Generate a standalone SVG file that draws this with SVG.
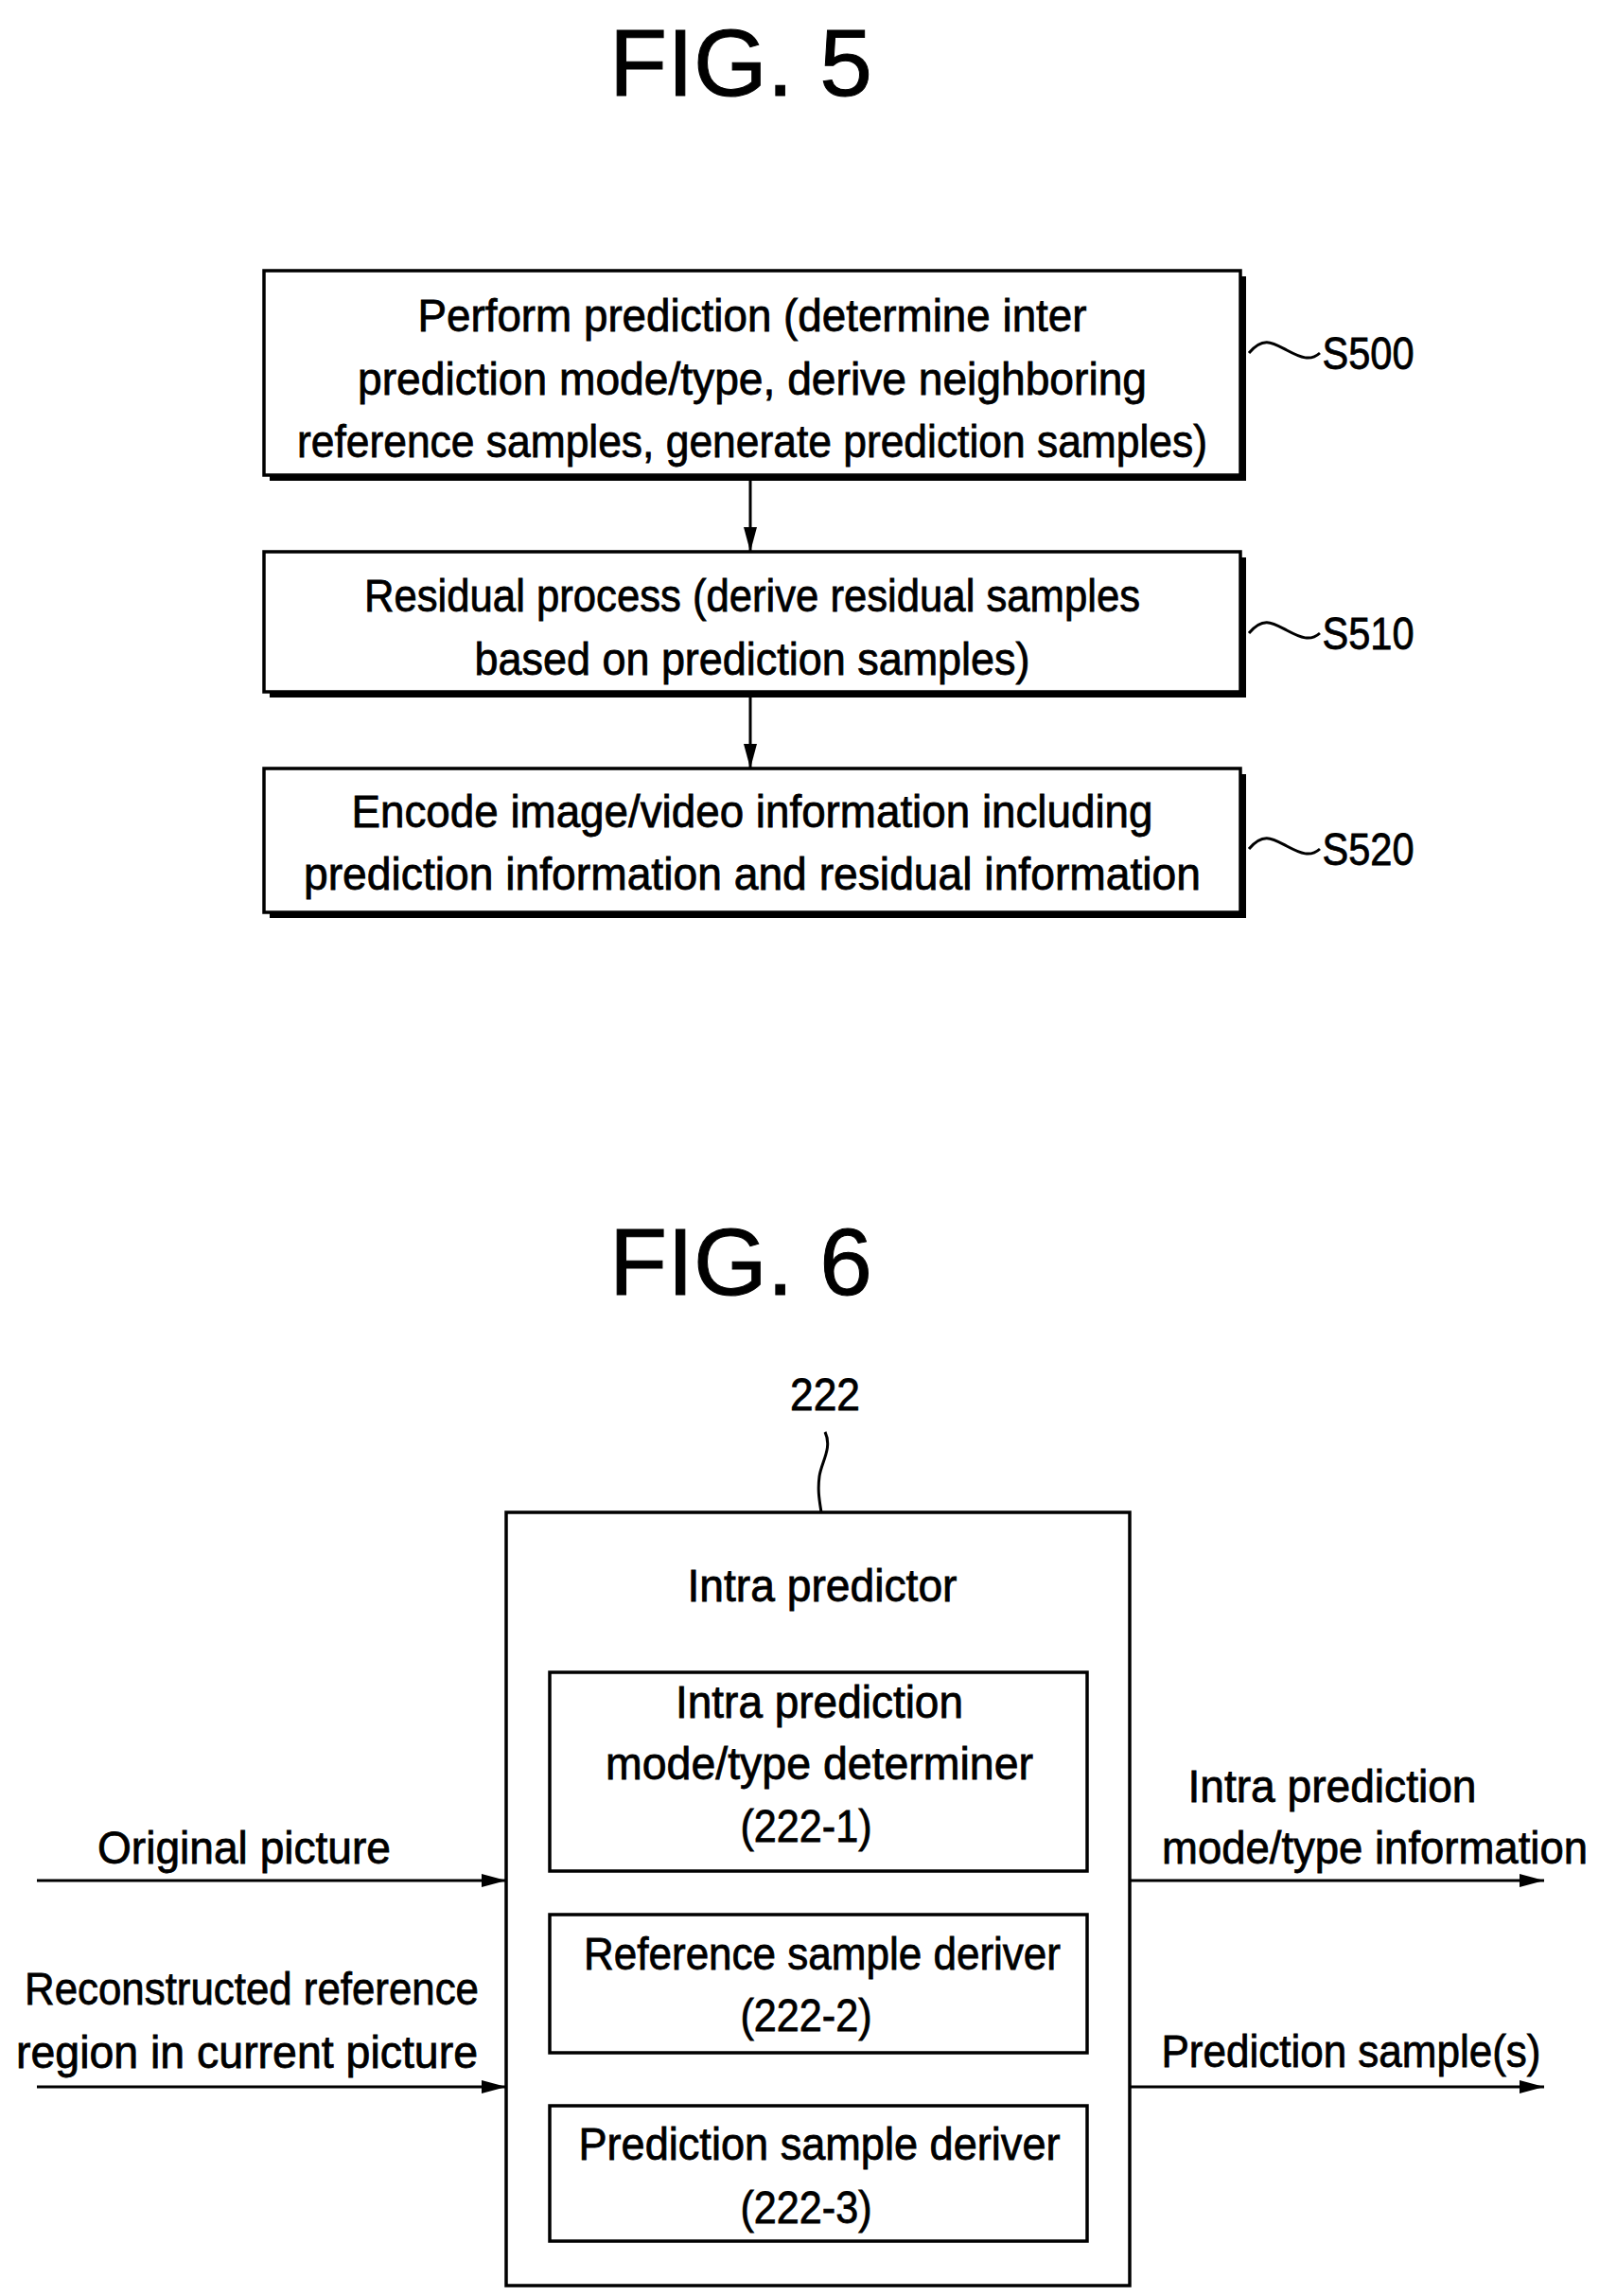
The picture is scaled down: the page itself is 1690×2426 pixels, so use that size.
<svg xmlns="http://www.w3.org/2000/svg" width="1690" height="2426" viewBox="0 0 1690 2426">
<style>
text{font-family:"Liberation Sans",Arial,sans-serif;font-size:48px;fill:#000;stroke:#000;stroke-width:0.8;text-anchor:middle}
.t{font-size:100px;stroke-width:1}
.b{fill:#fff;stroke:#000;stroke-width:3.5}
.s{fill:#000}
.c{stroke:#000;stroke-width:3;fill:none}
</style>
<defs><marker id="a" markerWidth="26" markerHeight="14" refX="26" refY="7" orient="auto" markerUnits="userSpaceOnUse"><path d="M0,0L26,7L0,14z"/></marker></defs>
<rect width="1690" height="2426" fill="#fff"/>
<text class="t" x="783" y="101">FIG. 5</text>
<g id="s500"><rect class="s" x="285" y="292" width="1032" height="216"/><rect class="b" x="279" y="286" width="1032" height="216"/>
<text x="795" y="350" textLength="707" lengthAdjust="spacingAndGlyphs">Perform prediction (determine inter</text>
<text x="795" y="417" textLength="834" lengthAdjust="spacingAndGlyphs">prediction mode/type, derive neighboring</text>
<text x="795" y="483" textLength="962" lengthAdjust="spacingAndGlyphs">reference samples, generate prediction samples)</text></g>
<g id="s510"><rect class="s" x="285" y="589" width="1032" height="148"/><rect class="b" x="279" y="583" width="1032" height="148"/>
<text x="795" y="646" textLength="820" lengthAdjust="spacingAndGlyphs">Residual process (derive residual samples</text>
<text x="795" y="713" textLength="587" lengthAdjust="spacingAndGlyphs">based on prediction samples)</text></g>
<g id="s520"><rect class="s" x="285" y="818" width="1032" height="152"/><rect class="b" x="279" y="812" width="1032" height="152"/>
<text x="795" y="874" textLength="847" lengthAdjust="spacingAndGlyphs">Encode image/video information including</text>
<text x="795" y="940" textLength="948" lengthAdjust="spacingAndGlyphs">prediction information and residual information</text></g>
<g id="lbl5">
<text x="1446" y="390" textLength="97" lengthAdjust="spacingAndGlyphs">S500</text>
<text x="1446" y="686" textLength="97" lengthAdjust="spacingAndGlyphs">S510</text>
<text x="1446" y="914" textLength="97" lengthAdjust="spacingAndGlyphs">S520</text></g>
<text class="t" x="783" y="1368">FIG. 6</text>
<text x="872" y="1490" textLength="74" lengthAdjust="spacingAndGlyphs">222</text>
<g id="ip"><rect class="b" x="535" y="1598" width="659" height="817"/>
<text x="869" y="1692" textLength="285" lengthAdjust="spacingAndGlyphs">Intra predictor</text></g>
<g id="ip1"><rect class="b" x="581" y="1767" width="568" height="210"/>
<text x="866" y="1815" textLength="304" lengthAdjust="spacingAndGlyphs">Intra prediction</text>
<text x="866" y="1880" textLength="452" lengthAdjust="spacingAndGlyphs">mode/type determiner</text>
<text x="852" y="1946" textLength="139" lengthAdjust="spacingAndGlyphs">(222-1)</text></g>
<g id="ip2"><rect class="b" x="581" y="2023" width="568" height="146"/>
<text x="869" y="2081" textLength="504" lengthAdjust="spacingAndGlyphs">Reference sample deriver</text>
<text x="852" y="2146" textLength="139" lengthAdjust="spacingAndGlyphs">(222-2)</text></g>
<g id="ip3"><rect class="b" x="581" y="2225" width="568" height="143"/>
<text x="866" y="2282" textLength="509" lengthAdjust="spacingAndGlyphs">Prediction sample deriver</text>
<text x="852" y="2349" textLength="139" lengthAdjust="spacingAndGlyphs">(222-3)</text></g>
<g id="lbl6">
<text x="258" y="1969" textLength="310" lengthAdjust="spacingAndGlyphs">Original picture</text>
<text x="266" y="2118" textLength="480" lengthAdjust="spacingAndGlyphs">Reconstructed reference</text>
<text x="261" y="2185" textLength="488" lengthAdjust="spacingAndGlyphs">region in current picture</text>
<text x="1408" y="1904" textLength="305" lengthAdjust="spacingAndGlyphs">Intra prediction</text>
<text x="1453" y="1969" textLength="450" lengthAdjust="spacingAndGlyphs">mode/type information</text>
<text x="1428" y="2184" textLength="401" lengthAdjust="spacingAndGlyphs">Prediction sample(s)</text></g>
<g id="connectors">
<line class="c" x1="793" y1="508" x2="793" y2="583" marker-end="url(#a)"/>
<line class="c" x1="793" y1="737" x2="793" y2="812" marker-end="url(#a)"/>
<path class="c" d="M1320,373 C1335,355 1345,362 1360,370 S1385,382 1395,373"/>
<path class="c" d="M1320,669 C1335,651 1345,658 1360,666 S1385,678 1395,669"/>
<path class="c" d="M1320,897 C1335,879 1345,886 1360,894 S1385,906 1395,897"/>
<path class="c" d="M872,1513 C880,1530 868,1545 866,1560 S866,1585 868,1598"/>
<line class="c" x1="39" y1="1987" x2="535" y2="1987" marker-end="url(#a)"/>
<line class="c" x1="39" y1="2205" x2="535" y2="2205" marker-end="url(#a)"/>
<line class="c" x1="1194" y1="1987" x2="1632" y2="1987" marker-end="url(#a)"/>
<line class="c" x1="1194" y1="2205" x2="1632" y2="2205" marker-end="url(#a)"/>
</g>
</svg>
